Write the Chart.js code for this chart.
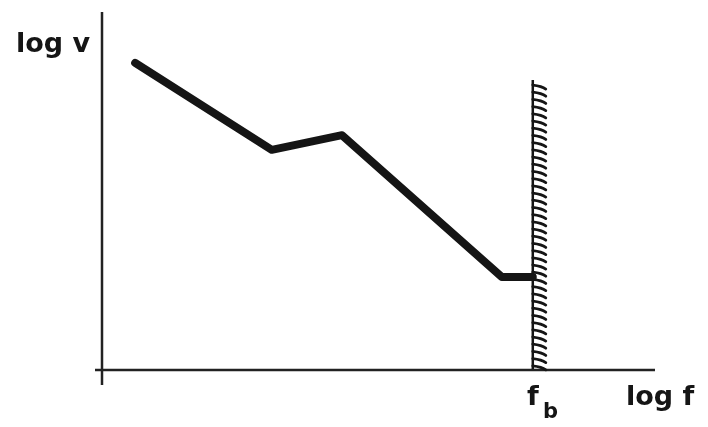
<!DOCTYPE html>
<html>
<head>
<meta charset="utf-8">
<script src="https://cdn.jsdelivr.net/npm/chart.js@4"></script>
<style>
  body { margin: 0; background: #fff; }
  canvas { display: block; }
</style>
</head>
<body>
<canvas id="sketch" width="708" height="427"></canvas>
<script>
// values in arbitrary units of log f / log v
const curveX = [6, 30.7, 43.4, 72.3, 77.9];
const curveY = [85.8, 61.5, 65.6, 26.0, 26.0];
const boundaryX = [77.9, 77.9];
const boundaryY = [0, 81];
const axisLabels = { y: 'log v', x: 'log f', fb: 'f', fbSub: 'b' };

const ink = '#151515';

// axes, hatching of the boundary and hand lettering
const sketchPlugin = {
    id: 'sketch',
    afterDatasetsDraw(chart) {
        const ctx = chart.ctx;
        const area = chart.chartArea;
        const xs = chart.scales.x;
        const ys = chart.scales.y;
        ctx.save();
        ctx.strokeStyle = '#222';
        ctx.lineWidth = 2.5;
        ctx.beginPath();
        ctx.moveTo(area.left, area.top);
        ctx.lineTo(area.left, area.bottom + 15);
        ctx.moveTo(area.left - 7, area.bottom);
        ctx.lineTo(area.right, area.bottom);
        ctx.stroke();

        // hatches on the right side of the f_b boundary
        const bx = xs.getPixelForValue(boundaryX[0]);
        const yTop = ys.getPixelForValue(boundaryY[1]);
        const yBot = ys.getPixelForValue(boundaryY[0]);
        ctx.lineWidth = 2.8;
        ctx.lineCap = 'round';
        ctx.strokeStyle = ink;
        ctx.beginPath();
        for (let y = yTop + 5; y < yBot - 2; y += 7.2) {
            ctx.moveTo(bx, y);
            ctx.quadraticCurveTo(bx + 9, y + 1, bx + 13, y + 4);
        }
        ctx.stroke();

        ctx.fillStyle = ink;
        ctx.textBaseline = 'alphabetic';
        ctx.font = 'bold 27px "DejaVu Sans"';
        ctx.fillText(axisLabels.y, 16, 52);
        ctx.fillText(axisLabels.x, 626, 405);
        ctx.fillText(axisLabels.fb, 527, 405);
        ctx.font = 'bold 21px "DejaVu Sans"';
        ctx.fillText(axisLabels.fbSub, 543, 418);
        ctx.restore();
    }
};

new Chart(document.getElementById('sketch'), {
    type: 'line',
    data: {
        datasets: [{
            data: curveX.map((x, i) => ({ x: x, y: curveY[i] })),
            borderColor: ink,
            borderWidth: 8,
            borderJoinStyle: 'round',
            borderCapStyle: 'round',
            pointRadius: 0,
            tension: 0
        }, {
            data: boundaryX.map((x, i) => ({ x: x, y: boundaryY[i] })),
            borderColor: ink,
            borderWidth: 2.5,
            pointRadius: 0
        }]
    },
    options: {
        responsive: false,
        animation: false,
        layout: { padding: { left: 102, top: 12, right: 53, bottom: 57 } },
        plugins: { legend: { display: false }, tooltip: { enabled: false } },
        scales: {
            x: {
                type: 'linear', min: 0, max: 100,
                display: false
            },
            y: {
                type: 'linear', min: 0, max: 100,
                display: false
            }
        }
    },
    plugins: [sketchPlugin]
});
</script>
</body>
</html>
